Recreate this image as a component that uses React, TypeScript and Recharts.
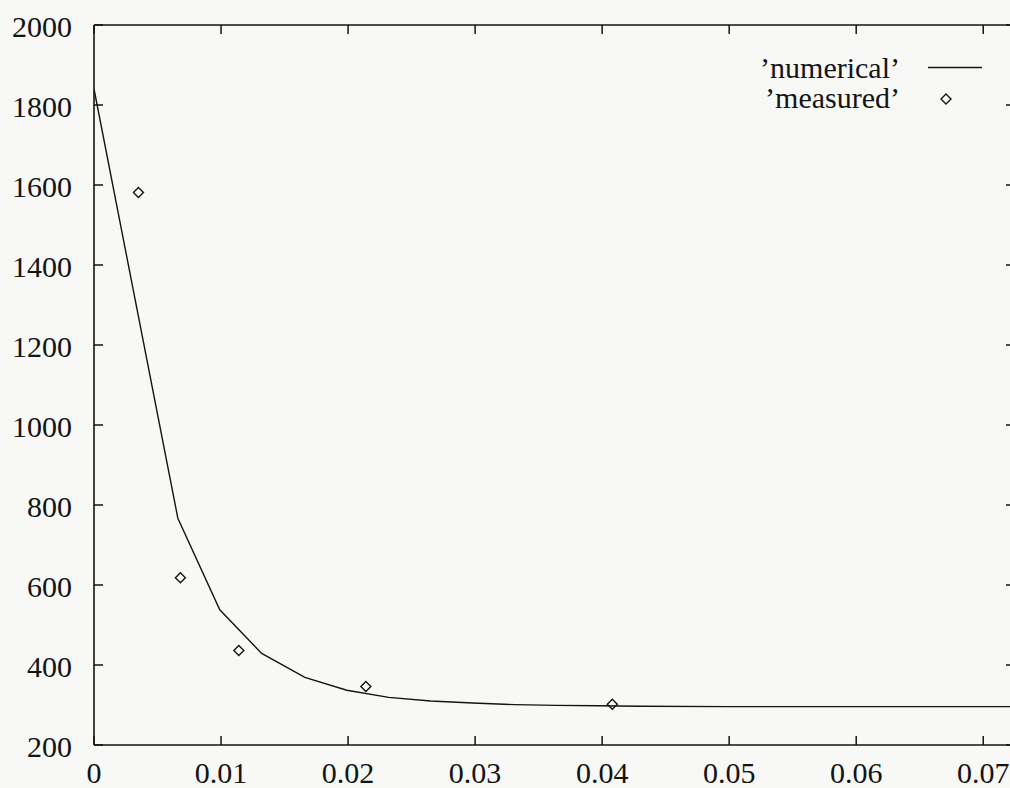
import React from 'react';
import { ComposedChart, Line, Scatter, XAxis, YAxis, Legend } from 'recharts';

// ---- data ----
const numericalX = [0, 0.0066, 0.0099, 0.0132, 0.0166, 0.0199, 0.0232, 0.0265, 0.0298, 0.0331, 0.0364, 0.0397, 0.043, 0.05, 0.06, 0.0725];
const numericalY = [1840, 767, 538, 429, 369, 337, 319, 310, 305, 301, 299, 298, 297, 296, 296, 296];
const measuredX = [0.0035, 0.0068, 0.0114, 0.0214, 0.0408];
const measuredY = [1581, 618, 436, 346, 302];
const xTicks = [0, 0.01, 0.02, 0.03, 0.04, 0.05, 0.06, 0.07];
const yTicks = [200, 400, 600, 800, 1000, 1200, 1400, 1600, 1800, 2000];
const seriesNames = ["\u2019numerical\u2019", "\u2019measured\u2019"];

const numerical = numericalX.map((x, i) => ({ x, y: numericalY[i] }));
const measured = measuredX.map((x, i) => ({ x, y: measuredY[i] }));

// ---- style ----
const FONT = '"Liberation Serif", "Times New Roman", serif';
const INK = '#141414';
const FS = 30;
const TICK_LEN = 9;
const X_MARGIN = 17;
const Y_MARGIN = 22;
const textStyle: React.CSSProperties = { fontFamily: FONT, fontSize: FS };

const BottomTick = (props: any) => {
  const { x, y, payload } = props;
  const ay = y - X_MARGIN;
  return (
    <g>
      <line x1={x} y1={ay} x2={x} y2={ay - TICK_LEN} stroke={INK} strokeWidth={1.5} />
      <text x={x} y={y} dy="0.71em" textAnchor="middle" style={textStyle} fill={INK}>
        {String(payload.value)}
      </text>
    </g>
  );
};

const TopTick = (props: any) => {
  const { x, y } = props;
  return <line x1={x} y1={y} x2={x} y2={y + TICK_LEN} stroke={INK} strokeWidth={1.5} />;
};

const LeftTick = (props: any) => {
  const { x, y, payload } = props;
  const ax = x + Y_MARGIN;
  return (
    <g>
      <line x1={ax} y1={y} x2={ax + TICK_LEN} y2={y} stroke={INK} strokeWidth={1.5} />
      <text x={x} y={y} dy="0.4em" textAnchor="end" style={textStyle} fill={INK}>
        {String(payload.value)}
      </text>
    </g>
  );
};

const RightTick = (props: any) => {
  const { x, y } = props;
  return <line x1={x} y1={y} x2={x - TICK_LEN} y2={y} stroke={INK} strokeWidth={1.5} />;
};

const diamondPath = (cx: number, cy: number, r: number) =>
  `M${cx},${cy - r}L${cx + r},${cy}L${cx},${cy + r}L${cx - r},${cy}Z`;

const Diamond = (props: any) => {
  const { cx, cy } = props;
  if (cx == null || cy == null) return null;
  return <path d={diamondPath(cx, cy, 5)} fill="none" stroke={INK} strokeWidth={1.4} />;
};

const LegendContent = () => (
  <svg width={400} height={80}>
    <text x={300} y={38} textAnchor="end" style={textStyle} fill={INK}>
      {seriesNames[0]}
    </text>
    <line x1={328} y1={27.5} x2={382} y2={27.5} stroke={INK} strokeWidth={1.4} />
    <text x={300} y={68} textAnchor="end" style={textStyle} fill={INK}>
      {seriesNames[1]}
    </text>
    <path d={diamondPath(346, 59, 5)} fill="none" stroke={INK} strokeWidth={1.4} />
  </svg>
);

export default function App() {
  return (
    <div
      style={{
        position: 'absolute',
        left: 0,
        top: 0,
        width: 1010,
        height: 788,
        overflow: 'hidden',
        background: '#f8f8f6',
        fontFamily: FONT,
      }}
    >
      <ComposedChart width={1040} height={788} margin={{ top: 0, right: 0, bottom: 0, left: 0 }}>
        <XAxis
          xAxisId="b"
          orientation="bottom"
          dataKey="x"
          type="number"
          domain={[0, 0.0725]}
          allowDataOverflow
          ticks={xTicks}
          interval={0}
          height={43}
          tickSize={0}
          tickMargin={X_MARGIN}
          tickLine={false}
          axisLine={{ stroke: INK, strokeWidth: 1.6 }}
          tick={<BottomTick />}
        />
        <XAxis
          xAxisId="t"
          orientation="top"
          dataKey="x"
          type="number"
          domain={[0, 0.0725]}
          allowDataOverflow
          ticks={xTicks}
          interval={0}
          height={25}
          tickSize={0}
          tickMargin={0}
          tickLine={false}
          axisLine={{ stroke: INK, strokeWidth: 1.6 }}
          tick={<TopTick />}
        />
        <YAxis
          yAxisId="l"
          orientation="left"
          type="number"
          domain={[200, 2000]}
          allowDataOverflow
          ticks={yTicks}
          interval={0}
          width={94}
          tickSize={0}
          tickMargin={Y_MARGIN}
          tickLine={false}
          axisLine={{ stroke: INK, strokeWidth: 1.6 }}
          tick={<LeftTick />}
        />
        <YAxis
          yAxisId="r"
          orientation="right"
          type="number"
          domain={[200, 2000]}
          allowDataOverflow
          ticks={yTicks}
          interval={0}
          width={25}
          tickSize={0}
          tickMargin={0}
          tickLine={false}
          axisLine={{ stroke: INK, strokeWidth: 1.6 }}
          tick={<RightTick />}
        />
        <Legend
          layout="vertical"
          align="center"
          verticalAlign="middle"
          wrapperStyle={{ left: 600, top: 40, width: 400, height: 80 }}
          content={<LegendContent />}
        />
        <Line
          xAxisId="b"
          yAxisId="l"
          data={numerical}
          dataKey="y"
          name={seriesNames[0]}
          type="linear"
          dot={false}
          stroke={INK}
          strokeWidth={1.4}
          isAnimationActive={false}
        />
        <Scatter
          xAxisId="b"
          yAxisId="l"
          data={measured}
          dataKey="y"
          name={seriesNames[1]}
          shape={<Diamond />}
          isAnimationActive={false}
        />
      </ComposedChart>
    </div>
  );
}
